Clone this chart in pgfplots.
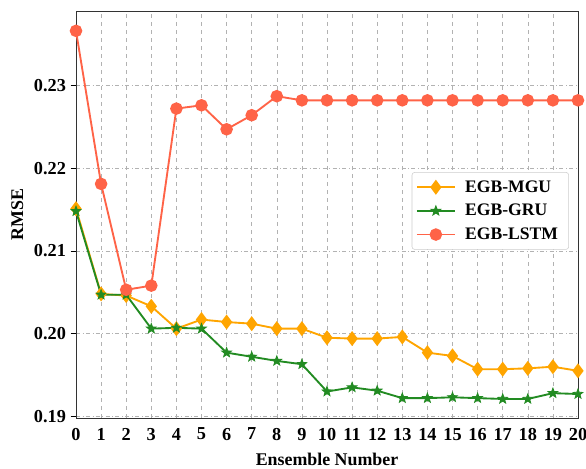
\documentclass[border=0pt]{standalone}
\usepackage{fontspec}
\setmainfont{Liberation Serif}
\usepackage{pgfplots}
\pgfplotsset{compat=1.18}
\definecolor{cmgu}{RGB}{255,165,0}
\definecolor{cgru}{RGB}{34,139,34}
\definecolor{clstm}{RGB}{255,99,71}
\pgfdeclareplotmark{fstar}{%
  \pgfpathmoveto{\pgfpointpolar{90}{\pgfplotmarksize}}%
  \pgfpathlineto{\pgfpointpolar{126}{0.42\pgfplotmarksize}}%
  \pgfpathlineto{\pgfpointpolar{162}{\pgfplotmarksize}}%
  \pgfpathlineto{\pgfpointpolar{198}{0.42\pgfplotmarksize}}%
  \pgfpathlineto{\pgfpointpolar{234}{\pgfplotmarksize}}%
  \pgfpathlineto{\pgfpointpolar{270}{0.42\pgfplotmarksize}}%
  \pgfpathlineto{\pgfpointpolar{306}{\pgfplotmarksize}}%
  \pgfpathlineto{\pgfpointpolar{342}{0.42\pgfplotmarksize}}%
  \pgfpathlineto{\pgfpointpolar{18}{\pgfplotmarksize}}%
  \pgfpathlineto{\pgfpointpolar{54}{0.42\pgfplotmarksize}}%
  \pgfpathclose
  \pgfusepathqfillstroke}
\begin{document}
\begin{tikzpicture}
\begin{axis}[
  name=ax,
  scale only axis,
  width=376.5pt, height=305.25pt,
  xmin=0, xmax=20, ymin=0.1898, ymax=0.239,
  xtick={0,...,20},
  ytick={0.19,0.20,0.21,0.22,0.23},
  yticklabel style={/pgf/number format/.cd,fixed,fixed zerofill,precision=2},
  /pgf/number format/assume math mode=true,
  ticklabel style={font=\fontsize{13.7}{16}\selectfont\bfseries},
  xlabel={Ensemble Number}, ylabel={RMSE},
  label style={font=\fontsize{13.4}{16}\selectfont\bfseries},
  xlabel style={at={(axis description cs:0.5,-0.1007)}, anchor=center},
  ylabel style={at={(axis description cs:-0.117,0.5)}, anchor=center},
  grid=major,
  x grid style={gray!60, dashed},
  y grid style={gray!60, dash dot},
  xtick style={draw=none},
  ytick style={black},
  major tick length=4pt,
  tick align=outside,
  tick pos=left,
  axis line style={black!80},
  legend style={at={(0.982,0.604)}, anchor=north east, rounded corners=2pt, draw=gray!40, font=\fontsize{13.2}{15.8}\selectfont\bfseries, row sep=3.5pt, inner xsep=3pt, inner ysep=4pt, nodes={inner xsep=5pt},
    /tikz/every odd column/.append style={column sep=2pt}},
  legend image code/.code={\draw[line width=1.4pt, mark repeat=2,mark phase=2] plot coordinates {(0cm,0cm)(0.5cm,0cm)(1cm,0cm)};},
  legend cell align=left,
  every axis plot/.append style={line width=1.4pt},
  clip=false,
]
\addplot[cmgu, mark=diamond*, mark size=4.5pt] coordinates {
(0,0.2151)(1,0.2048)(2,0.2046)(3,0.2033)(4,0.2006)(5,0.2017)(6,0.2014)(7,0.2012)(8,0.2006)(9,0.2006)(10,0.1995)(11,0.1994)(12,0.1994)(13,0.1996)(14,0.1977)(15,0.1973)(16,0.1957)(17,0.1957)(18,0.1958)(19,0.1960)(20,0.1955)};
\addlegendentry{EGB-MGU}
\addplot[cgru, mark=fstar, mark size=3.8pt, mark options={line width=0.6pt, fill=cgru}] coordinates {
(0,0.2148)(1,0.2047)(2,0.2047)(3,0.2006)(4,0.2007)(5,0.2006)(6,0.1977)(7,0.1972)(8,0.1967)(9,0.1963)(10,0.1930)(11,0.1935)(12,0.1931)(13,0.1922)(14,0.1922)(15,0.1923)(16,0.1922)(17,0.1921)(18,0.1921)(19,0.1928)(20,0.1927)};
\addlegendentry{EGB-GRU}
\addplot[clstm, mark=*, mark size=4pt] coordinates {
(0,0.2366)(1,0.2181)(2,0.2053)(3,0.2058)(4,0.2272)(5,0.2276)(6,0.2247)(7,0.2264)(8,0.2287)(9,0.2282)(10,0.2282)(11,0.2282)(12,0.2282)(13,0.2282)(14,0.2282)(15,0.2282)(16,0.2282)(17,0.2282)(18,0.2282)(19,0.2282)(20,0.2282)};
\addlegendentry{EGB-LSTM}
\end{axis}
\pgfresetboundingbox
\useasboundingbox ([shift={(-57pt,-38.25pt)}]ax.south west) rectangle ([shift={(6pt,8.25pt)}]ax.north east);
\end{tikzpicture}
\end{document}
